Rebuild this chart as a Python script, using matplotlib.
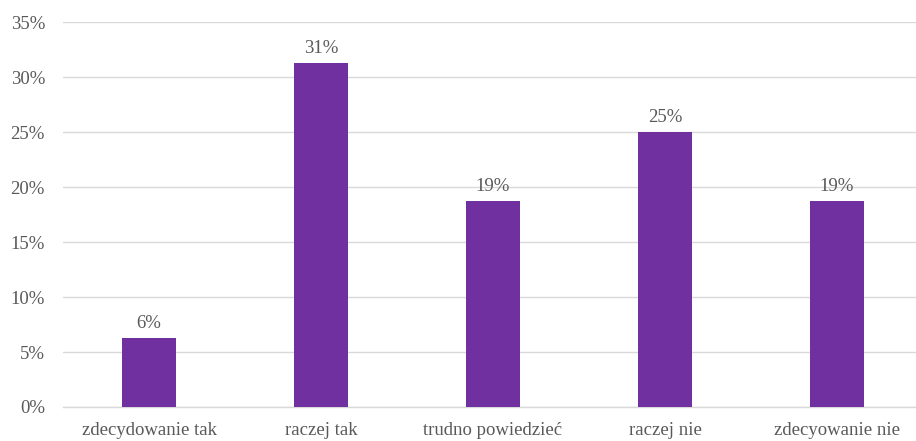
import matplotlib
matplotlib.use("Agg")
import matplotlib.pyplot as plt
from matplotlib.ticker import FuncFormatter

categories = ["zdecydowanie tak", "raczej tak", "trudno powiedzieć", "raczej nie", "zdecyowanie nie"]
shares = [6.25, 31.25, 18.75, 25.0, 18.75]
yticks = [0, 5, 10, 15, 20, 25, 30, 35]

bar_color = "#7030A0"
text_color = "#595959"
grid_color = "#d9d9d9"

plt.rcParams["font.family"] = ["Liberation Serif", "DejaVu Serif"]

fig = plt.figure(figsize=(9.16, 4.41), dpi=100)
ax = fig.add_axes([0.0688, 0.0771, 0.9388, 0.8729])

x = list(range(len(categories)))
bars = ax.bar(x, shares, width=0.314, color=bar_color, zorder=3)

for xi, v in zip(x, shares):
    ax.annotate(f"{v:.0f}%", (xi, v), xytext=(0, 4.5), textcoords="offset points",
                ha="center", va="bottom", fontsize=13.5, color=text_color)

ax.set_xlim(-0.5, len(categories) - 0.5)
ax.set_ylim(0, 35)
ax.set_yticks(yticks)
ax.yaxis.set_major_formatter(FuncFormatter(lambda v, p: f"{v:.0f}%"))
ax.set_xticks(x)
ax.set_xticklabels(categories)

ax.grid(axis="y", color=grid_color, linewidth=1.0, zorder=0)
ax.grid(axis="x", visible=False)
for s in ["top", "right", "left"]:
    ax.spines[s].set_visible(False)
ax.spines["bottom"].set_color(grid_color)
ax.spines["bottom"].set_linewidth(1.0)

ax.tick_params(axis="both", length=0, labelsize=13.5, colors=text_color)
ax.tick_params(axis="y", pad=13)
ax.tick_params(axis="x", pad=11)

fig.savefig("out.png", dpi=100)
